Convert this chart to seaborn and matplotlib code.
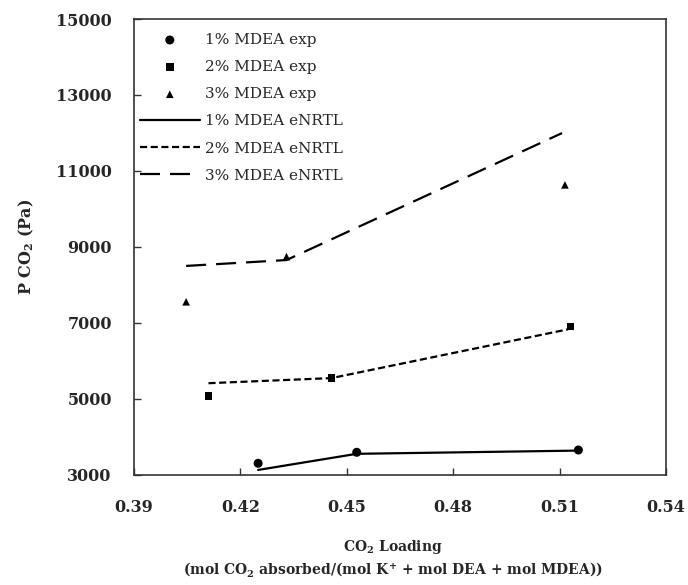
import pandas as pd
import matplotlib
matplotlib.use('Agg')
import matplotlib.pyplot as plt
import seaborn as sns

# experimental points (CO2 loading, P CO2 in Pa)
exp1_x = [0.425, 0.4528, 0.5153]
exp1_y = [3295, 3585, 3645]
exp2_x = [0.411, 0.4457, 0.5131]
exp2_y = [5070, 5550, 6895]
exp3_x = [0.4047, 0.433, 0.5115]
exp3_y = [7550, 8740, 10630]

# eNRTL model curves
mod1_x = [0.425, 0.4528, 0.5153]
mod1_y = [3120, 3545, 3630]
mod2_x = [0.411, 0.4457, 0.5124]
mod2_y = [5405, 5540, 6825]
mod3_x = [0.4047, 0.433, 0.5107]
mod3_y = [8495, 8650, 11995]

x_ticks = [0.39, 0.42, 0.45, 0.48, 0.51, 0.54]
y_ticks = [3000, 5000, 7000, 9000, 11000, 13000, 15000]

sns.set_style('ticks')
plt.rcParams['font.family'] = ['DejaVu Serif']
plt.rcParams['mathtext.default'] = 'regular'

fig = plt.figure(figsize=(6.88, 5.85), dpi=100)
ax = fig.add_axes([134 / 688, 1 - 474.5 / 585, 532 / 688, 455.5 / 585])

# experimental data
for xs, ys, mk, ms, lab in [(exp1_x, exp1_y, 'o', 42, '1% MDEA exp'),
                            (exp2_x, exp2_y, 's', 30, '2% MDEA exp'),
                            (exp3_x, exp3_y, '^', 30, '3% MDEA exp')]:
    sns.scatterplot(x=xs, y=ys, marker=mk, s=ms, color='black',
                    edgecolor='none', label=lab, ax=ax, zorder=3)

# model lines
for xs, ys, dash, lab in [(mod1_x, mod1_y, None, '1% MDEA eNRTL'),
                          (mod2_x, mod2_y, (3.2, 1.6), '2% MDEA eNRTL'),
                          (mod3_x, mod3_y, (9, 4.5), '3% MDEA eNRTL')]:
    df = pd.DataFrame({'x': xs, 'y': ys})
    kw = {} if dash is None else {'dashes': dash}
    sns.lineplot(data=df, x='x', y='y', color='black', linewidth=1.6,
                 label=lab, ax=ax, sort=False, **kw)

ax.set_xlim(0.39, 0.54)
ax.set_ylim(3000, 15000)
ax.set_xticks(x_ticks)
ax.set_yticks(y_ticks)
ax.set_xticklabels([f'{v:.2f}' for v in x_ticks])
ax.set_yticklabels([str(v) for v in y_ticks])
ax.tick_params(direction='in', length=5, width=1, color='#333333',
               labelsize=11.5, pad=16)
ax.tick_params(axis='x', pad=17.5)
for lbl in ax.get_xticklabels() + ax.get_yticklabels():
    lbl.set_fontweight('bold')
for sp in ax.spines.values():
    sp.set_visible(True)
    sp.set_linewidth(1.2)
    sp.set_color('#333333')

ax.set_ylabel('P CO$_2$ (Pa)', fontsize=11.5, fontweight='bold')
ax.yaxis.set_label_coords(-0.185, 0.5)
ax.set_xlabel('CO$_2$ Loading\n(mol CO$_2$ absorbed/(mol K$^{+}$ + mol DEA + mol MDEA))',
              fontsize=10, fontweight='bold', linespacing=1.3)
ax.xaxis.set_label_coords(0.487, -0.14)

# legend: points first, then model lines
handles, labels = ax.get_legend_handles_labels()
order = ['1% MDEA exp', '2% MDEA exp', '3% MDEA exp',
         '1% MDEA eNRTL', '2% MDEA eNRTL', '3% MDEA eNRTL']
hmap = dict(zip(labels, handles))
ax.legend([hmap[l] for l in order], order, loc='upper left',
          bbox_to_anchor=(140 / 688, 1 - 33 / 585), bbox_transform=fig.transFigure,
          frameon=False, fontsize=11, handlelength=3.9, handletextpad=0.35,
          labelspacing=0.86, borderaxespad=0, borderpad=0)

fig.savefig('out.png', dpi=100)
